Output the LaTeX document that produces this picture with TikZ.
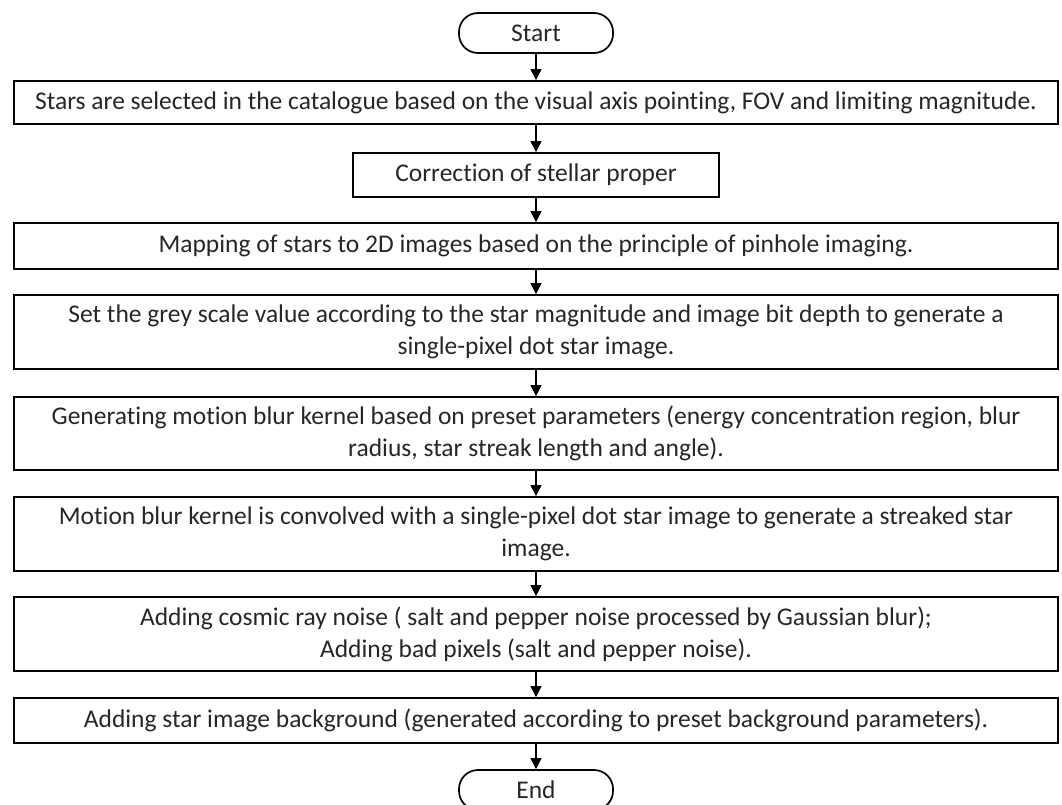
\documentclass[tikz,border=0pt]{standalone}
\usepackage{fontspec}
\setmainfont{Carlito}[Ligatures=NoCommon]
\usetikzlibrary{arrows.meta}
\begin{document}
\begin{tikzpicture}[x=1pt, y=-1pt,
    stepbox/.style={draw, line width=1.7pt, inner sep=0pt, minimum width=1044pt, align=center,
                    text=black!85, font=\fontsize{25.5}{32}\selectfont},
    termbox/.style={draw, line width=1.7pt, rounded corners=19pt, minimum width=154pt,
                    minimum height=40pt, text=black!85, font=\fontsize{25.5}{32}\selectfont},
    flow/.style={line width=1.1pt, -{Triangle[width=11pt,length=11pt]}}]
        % \draw[help lines, gray!50, very thin] (0,0) grid[step=100pt] (1062,805);
        \useasboundingbox (0,0) rectangle (1062,805);

        \node[termbox] (start) at (536,33) {Start};
        \node[stepbox, minimum height=43pt] (select) at (536,102.5) {Stars are selected in the catalogue based on the visual axis pointing, FOV and limiting magnitude.};
        \node[stepbox, minimum height=44pt, minimum width=366pt] (proper) at (536,175) {Correction of stellar proper};
        \node[stepbox, minimum height=46pt] (mapping) at (536,246) {Mapping of stars to 2D images based on the principle of pinhole imaging.};
        \node[stepbox, minimum height=74pt] (grey) at (536,332) {Set the grey scale value according to the star magnitude and image bit depth to generate a\\single-pixel dot star image.};
        \node[stepbox, minimum height=73pt] (kernel) at (536,433.5) {Generating motion blur kernel based on preset parameters (energy concentration region, blur\\radius, star streak length and angle).};
        \node[stepbox, minimum height=74pt] (convolve) at (536,534) {Motion blur kernel is convolved with a single-pixel dot star image to generate a streaked star\\image.};
        \node[stepbox, minimum height=74pt] (noise) at (536,634) {Adding cosmic ray noise ( salt and pepper noise processed by Gaussian blur);\\Adding bad pixels (salt and pepper noise).};
        \node[stepbox, minimum height=45pt] (backgr) at (536,720.5) {Adding star image background (generated according to preset background parameters).};
        \node[termbox] (end) at (536,790) {End};

        \draw[flow] (start) -- (select);
        \draw[flow] (select) -- (proper);
        \draw[flow] (proper) -- (mapping);
        \draw[flow] (mapping) -- (grey);
        \draw[flow] (grey) -- (kernel);
        \draw[flow] (kernel) -- (convolve);
        \draw[flow] (convolve) -- (noise);
        \draw[flow] (noise) -- (backgr);
        \draw[flow] (backgr) -- (end);
      \end{tikzpicture}
\end{document}
